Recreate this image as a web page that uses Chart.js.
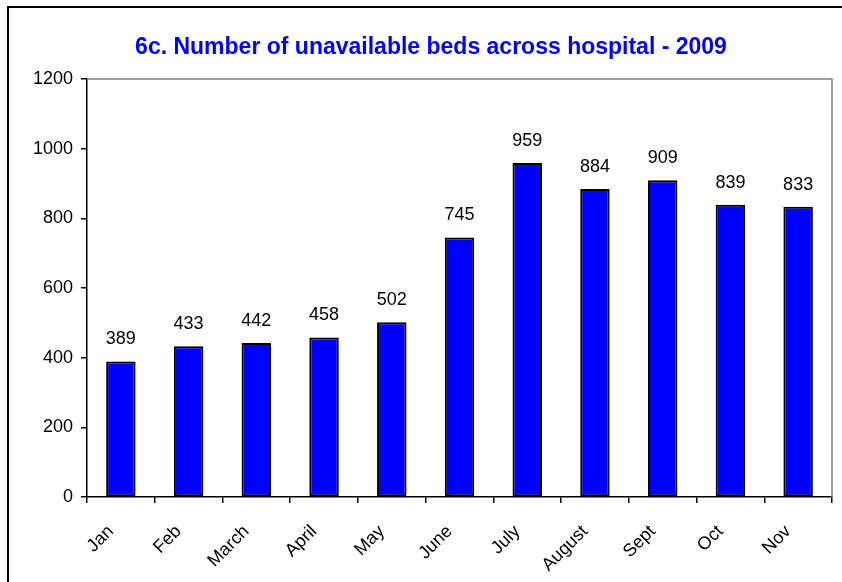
<!DOCTYPE html>
<html>
<head>
<meta charset="utf-8">
<script src="https://cdn.jsdelivr.net/npm/chart.js@4.4.1/dist/chart.umd.min.js"></script>
<style>
  html, body { margin: 0; padding: 0; background: #fff; }
  #wrap { width: 842px; height: 582px; }
</style>
</head>
<body>
<div id="wrap"><canvas id="myChart" width="842" height="582"></canvas></div>
<script>
// data
const months = ['Jan', 'Feb', 'March', 'April', 'May', 'June', 'July', 'August', 'Sept', 'Oct', 'Nov'];
const unavailableBeds = [389, 433, 442, 458, 502, 745, 959, 884, 909, 839, 833];
const chartTitle = '6c. Number of unavailable beds across hospital - 2009';

// frame round the chart plus the grey top/right plot border
const framePlugin = {
    id: 'frame',
    beforeDraw(chart) {
        const c = chart.ctx;
        c.save();
        c.fillStyle = '#fff';
        c.fillRect(0, 0, chart.width, chart.height);
        c.strokeStyle = '#000';
        c.lineWidth = 2;
        c.beginPath();
        c.moveTo(8, chart.height);
        c.lineTo(8, 7);
        c.lineTo(chart.width, 7);
        c.stroke();
        c.restore();
    },
    afterDraw(chart) {
        const a = chart.chartArea;
        const c = chart.ctx;
        c.save();
        c.strokeStyle = '#808080';
        c.lineWidth = 1.5;
        c.beginPath();
        c.moveTo(a.left, a.top);
        c.lineTo(a.right, a.top);
        c.lineTo(a.right, a.bottom);
        c.stroke();
        c.restore();
    }
};

// value labels above each bar
const valueLabels = {
    id: 'valueLabels',
    afterDatasetsDraw(chart) {
        const c = chart.ctx;
        const meta = chart.getDatasetMeta(0);
        c.save();
        c.font = '18px "Liberation Sans", Arial, sans-serif';
        c.fillStyle = '#000';
        c.textAlign = 'center';
        c.textBaseline = 'alphabetic';
        meta.data.forEach((bar, i) => {
            c.fillText(chart.data.datasets[0].data[i], bar.x, bar.y - 17);
        });
        c.restore();
    }
};

const ctx = document.getElementById('myChart');

theChart = new Chart(ctx, {
    type: 'bar',
    data: {
        labels: months,
        datasets: [{
            label: 'unavailable beds',
            data: unavailableBeds,
            backgroundColor: '#0000ff',
            borderColor: '#000',
            borderWidth: 2,
            borderSkipped: false,
            categoryPercentage: 1,
            barPercentage: 0.435
        }]
    },
    options: {
        responsive: false,
        animation: false,
        layout: {
            padding: { left: 30, right: 10, top: 0, bottom: 0 }
        },
        plugins: {
            legend: { display: false },
            tooltip: { enabled: false },
            title: {
                display: true,
                text: chartTitle,
                color: '#0000ff',
                font: { family: '"Liberation Sans", Arial, sans-serif', size: 23, weight: 'bold', lineHeight: 1.2 },
                padding: { top: 34, bottom: 17.4 }
            }
        },
        scales: {
            x: {
                afterFit: s => { s.height = 85; },
                border: { color: '#000', width: 1.5 },
                grid: { drawOnChartArea: false, color: '#000', tickLength: 6, lineWidth: 1.5 },
                ticks: {
                    color: '#000',
                    font: { family: '"Liberation Sans", Arial, sans-serif', size: 18 },
                    minRotation: 45,
                    maxRotation: 45,
                    autoSkip: false,
                    padding: 18,
                    labelOffset: -10
                }
            },
            y: {
                min: 0,
                max: 1200,
                afterFit: s => { s.width = 57; },
                border: { color: '#000', width: 1.5 },
                grid: { drawOnChartArea: false, color: '#000', tickLength: 6, lineWidth: 1.5 },
                ticks: {
                    stepSize: 200,
                    color: '#000',
                    font: { family: '"Liberation Sans", Arial, sans-serif', size: 18 },
                    padding: 8,
                    callback: v => String(v)
                }
            }
        }
    },
    plugins: [framePlugin, valueLabels]
});
</script>
</body>
</html>
